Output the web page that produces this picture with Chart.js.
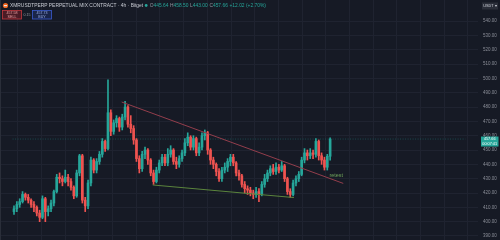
<!DOCTYPE html>
<html>
<head>
<meta charset="utf-8">
<script src="https://cdn.jsdelivr.net/npm/chart.js@4.4.1/dist/chart.umd.min.js"></script>
<style>
  html, body { margin: 0; padding: 0; background: #161a25; }
  #wrap { width: 500px; height: 240px; position: relative; }
</style>
</head>
<body>
<div id="wrap"><canvas id="xmr"></canvas></div>
<script>
// XMRUSDT perpetual, 4h candles
const opens  = [407,409,412,414,419,417,415,412,410,406,403,416,407,409,413,421,431,430,428,431,
                428,424,418,434,446,415,411,427,443,436,442,447,456,451,476,463,469,472,466,473,
                480,468,465,457,444,437,447,450,443,434,428,436,441,445,441,447,450,442,440,444,
                448,455,459,452,458,448,452,460,462,450,443,440,435,430,436,438,442,445,441,434,
                432,426,423,422,420,419,421,419,426,430,434,437,435,438,436,439,430,421,419,427,
                430,433,443,448,446,448,447,456,446,443,438,445.64];
const highs  = [411,414,416,421,420,419,416,414,411,408,418,417,411,415,422,433,434,432,436,433,
                430,425,436,447,447,417,429,445,444,444,449,458,457,499,478,471,474,473,475,484,
                481,474,467,458,446,449,452,451,444,436,438,443,447,447,451,453,451,445,446,450,
                458,462,460,460,459,455,462,464,463,451,445,441,437,438,441,444,447,447,442,436,
                433,428,425,424,422,424,423,428,433,436,439,440,441,440,442,440,431,423,429,432,
                435,445,451,450,451,450,458,457,448,445,447,458.5];
const lows   = [405,407,410,413,415,413,410,407,404,400,402,400,404,407,411,420,427,425,427,425,
                422,416,417,432,413,407,409,425,434,434,440,445,449,450,460,461,466,463,464,471,
                466,462,454,442,434,435,444,440,432,426,427,434,439,439,439,445,440,437,438,442,
                446,453,450,450,446,446,450,457,447,440,437,432,428,428,434,435,439,439,432,429,
                424,420,419,418,416,417,414,418,424,428,432,433,433,434,435,428,419,417,418,425,
                428,432,441,443,444,444,445,443,440,436,436,443];
const closes = [409,412,414,419,417,415,412,410,406,403,416,407,409,413,421,431,430,428,431,428,
                424,418,434,446,415,411,427,443,436,442,447,456,451,476,463,469,472,466,473,480,
                468,465,457,444,437,447,450,443,434,428,436,441,445,441,447,450,442,440,444,448,
                455,459,452,458,448,452,460,462,450,443,440,435,430,436,438,442,445,441,434,432,
                426,423,422,420,419,421,419,426,430,434,437,435,438,436,439,430,421,419,427,430,
                433,443,448,446,448,447,456,446,443,438,445.64,457.66];
const yTicks = [390,400,410,420,430,440,450,460,470,480,490,500,510,520,530,540];

// drawn trend lines (candle index, price)
const resistance = [{x: 37.8, y: 483.5}, {x: 115.6, y: 426.7}];
const support    = [{x: 48.7, y: 425.6}, {x: 98.3, y: 416.8}];
const lastPrice = 457.66;

const UP = '#26a69a', DOWN = '#ef5350';
const idx = closes.map((c, i) => i);
const colors = closes.map((c, i) => c >= opens[i] ? UP : DOWN);

const header = {
  id: 'header',
  afterDraw(chart) {
    const ctx = chart.ctx;
    const y = chart.scales.y, x = chart.scales.x;
    ctx.save();
    ctx.textBaseline = 'middle';
    // symbol logo
    ctx.fillStyle = '#f26822';
    ctx.beginPath(); ctx.arc(5.5, 5.5, 2.6, 0, Math.PI * 2); ctx.fill();
    ctx.fillStyle = '#e8e8e8';
    ctx.fillRect(4, 5, 3, 1.2);
    ctx.font = '4.9px "Liberation Sans", Arial, sans-serif';
    ctx.fillStyle = '#c9ccd4';
    ctx.textAlign = 'left';
    const title = 'XMRUSDTPERP PERPETUAL MIX CONTRACT · 4h · Bitget';
    ctx.fillText(title, 10, 5.5);
    const tEnd = 10 + ctx.measureText(title).width;
    ctx.fillStyle = UP;
    ctx.beginPath(); ctx.arc(tEnd + 3, 5.5, 1.4, 0, Math.PI * 2); ctx.fill();
    let px = tEnd + 6.5;
    [['O', '445.64'], ['H', '458.50'], ['L', '443.00'], ['C', '457.66']].forEach(p => {
      ctx.fillStyle = '#9598a1'; ctx.fillText(p[0], px, 5.5); px += ctx.measureText(p[0]).width;
      ctx.fillStyle = UP; ctx.fillText(p[1], px, 5.5); px += ctx.measureText(p[1]).width + 1.6;
    });
    ctx.fillText('+12.02 (+2.70%)', px, 5.5);

    // sell / buy buttons
    ctx.lineWidth = 0.8;
    ctx.fillStyle = 'rgba(120,30,38,0.55)'; ctx.strokeStyle = '#c2393f';
    ctx.fillRect(2.5, 10.5, 19, 8.5); ctx.strokeRect(2.5, 10.5, 19, 8.5);
    ctx.fillStyle = 'rgba(30,50,120,0.45)'; ctx.strokeStyle = '#3b5bd0';
    ctx.fillRect(32.5, 10.5, 19, 8.5); ctx.strokeRect(32.5, 10.5, 19, 8.5);
    ctx.textAlign = 'center';
    ctx.font = '3.6px "Liberation Sans", Arial, sans-serif';
    ctx.fillStyle = '#f0a0a4'; ctx.fillText('457.58', 12, 13); ctx.fillText('SELL', 12, 16.8);
    ctx.fillStyle = '#9fb3f0'; ctx.fillText('457.73', 42, 13); ctx.fillText('BUY', 42, 16.8);
    ctx.fillStyle = '#9598a1'; ctx.fillText('0.15', 27, 14.8);

    // currency box
    ctx.fillStyle = '#2a2e39';
    ctx.fillRect(482, 2.5, 16, 7);
    ctx.fillStyle = '#d1d4dc';
    ctx.font = '3.8px "Liberation Sans", Arial, sans-serif';
    ctx.fillText('USDT ▾', 490, 6.2);

    // last price tag
    const py = y.getPixelForValue(lastPrice);
    ctx.fillStyle = UP;
    ctx.fillRect(481, py - 2.5, 17.5, 10);
    ctx.fillStyle = '#ffffff';
    ctx.fillText('457.66', 489.7, py);
    ctx.fillText('00:07:41', 489.7, py + 4.6);

    // annotation text
    ctx.fillStyle = '#6fa35a';
    ctx.font = '5.4px "Liberation Sans", Arial, sans-serif';
    ctx.textAlign = 'left';
    ctx.fillText('retest', x.getPixelForValue(110.8), y.getPixelForValue(432.3));

    // left border
    ctx.fillStyle = '#2a2e39';
    ctx.fillRect(0, 0, 1, 240);
    ctx.restore();
  }
};

new Chart(document.getElementById('xmr'), {
  type: 'bar',
  data: {
    datasets: [
      {
        label: 'wick',
        data: idx.map(i => ({x: i, y: [lows[i], highs[i]]})),
        backgroundColor: colors,
        barThickness: 1,
        grouped: false,
        order: 2
      },
      {
        label: 'body',
        data: idx.map(i => ({x: i, y: [opens[i], closes[i]]})),
        backgroundColor: colors,
        barThickness: 2,
        grouped: false,
        order: 1
      },
      {
        type: 'line',
        label: 'resistance',
        data: resistance,
        borderColor: '#933e4c',
        borderWidth: 1,
        pointRadius: 0,
        order: 0
      },
      {
        type: 'line',
        label: 'support',
        data: support,
        borderColor: '#5b853d',
        borderWidth: 1,
        pointRadius: 0,
        order: 0
      },
      {
        type: 'line',
        label: 'last',
        data: [{x: -0.5, y: lastPrice}, {x: 158.5, y: lastPrice}],
        borderColor: 'rgba(38,166,154,0.35)',
        borderWidth: 1,
        borderDash: [1, 1.5],
        pointRadius: 0,
        order: 3
      }
    ]
  },
  options: {
    responsive: true,
    maintainAspectRatio: false,
    animation: false,
    layout: { padding: 0 },
    plugins: { legend: { display: false }, tooltip: { enabled: false } },
    scales: {
      x: {
        type: 'linear',
        min: -0.5,
        max: 158.5,
        grid: { color: '#1f2330', drawTicks: false },
        border: { display: false },
        ticks: { display: false },
        afterBuildTicks: s => {
          const t = [];
          for (let v = 5.5; v < 158.5; v += 8.317) t.push({value: v});
          s.ticks = t;
        },
        afterFit: s => { s.height = 0; s.paddingLeft = 0; s.paddingRight = 0; }
      },
      y: {
        position: 'right',
        min: 387.2,
        max: 554.7,
        grid: { color: '#1f2330', drawTicks: false },
        border: { display: false },
        ticks: {
          color: '#8b8e98',
          padding: 5,
          font: { size: 4.5, family: '"Liberation Sans", Arial, sans-serif' },
          callback: v => v.toFixed(2)
        },
        afterBuildTicks: s => { s.ticks = yTicks.map(v => ({value: v})); },
        afterFit: s => { s.width = 22; s.paddingTop = 0; s.paddingBottom = 0; }
      }
    }
  },
  plugins: [header]
});
</script>
</body>
</html>
